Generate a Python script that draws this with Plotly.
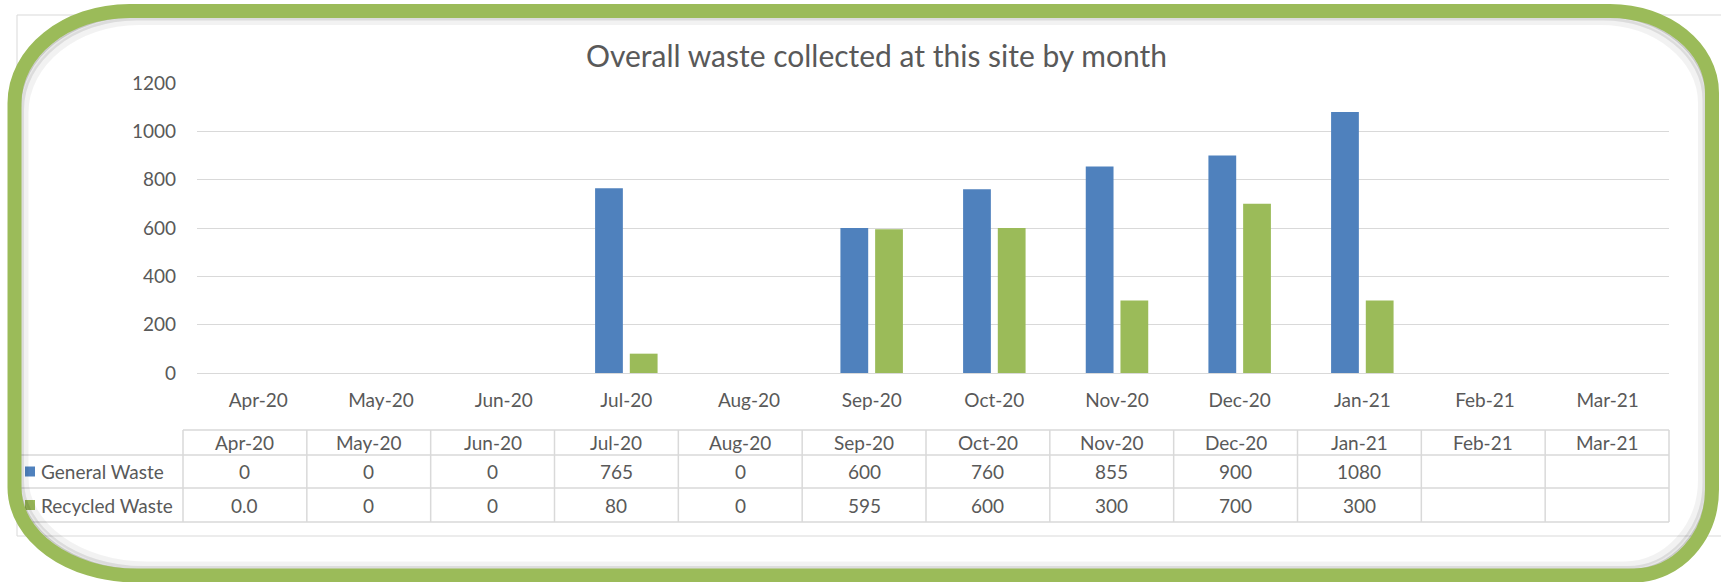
import plotly.graph_objects as go

# ---------------- data ----------------
months = ["Apr-20", "May-20", "Jun-20", "Jul-20", "Aug-20", "Sep-20",
          "Oct-20", "Nov-20", "Dec-20", "Jan-21", "Feb-21", "Mar-21"]
general_waste = [0, 0, 0, 765, 0, 600, 760, 855, 900, 1080, None, None]
recycled_waste = [0, 0, 0, 80, 0, 595, 600, 300, 700, 300, None, None]
general_labels = ["0", "0", "0", "765", "0", "600", "760", "855", "900", "1080", "", ""]
recycled_labels = ["0.0", "0", "0", "80", "0", "595", "600", "300", "700", "300", "", ""]
series_names = ["General Waste", "Recycled Waste"]
title_text = "Overall waste collected at this site by month"

# ---------------- style ----------------
BLUE = "#4F81BD"
GREEN = "#9BBB59"
TEXT = "#595959"
GRID = "#D9D9D9"
BORDER_GREEN = "#9BBB59"
FONT = "Lato"
FS = 19

W, H = 1721, 582
L, R, T, B = 197, 1669, 83, 373  # plot area in pixels


def px(x):
    return (x - L) / (R - L)


def py(y):
    return (B - y) / (B - T)


fig = go.Figure()
fig.add_bar(x=months, y=general_waste, name=series_names[0], marker_color=BLUE,
            marker_line_width=0)
fig.add_bar(x=months, y=recycled_waste, name=series_names[1], marker_color=GREEN,
            marker_line_width=0)

shapes = []
annotations = []

# outer chart-area border (thin gray)
shapes.append(dict(type="rect", xref="paper", yref="paper",
                   x0=px(17), x1=px(1735), y0=py(15), y1=py(536),
                   line=dict(color=GRID, width=1), fillcolor="rgba(0,0,0,0)",
                   layer="below"))

# ---------------- data table ----------------
tx0 = 183
tx1 = 1669
ncol = len(months)
cw = (tx1 - tx0) / ncol
row_y = [430, 455, 488, 522]
line_style = dict(color=GRID, width=1.5)

shapes.append(dict(type="line", xref="paper", yref="paper",
                   x0=px(tx0), x1=px(tx1), y0=py(row_y[0]), y1=py(row_y[0]),
                   line=line_style))
for yy in row_y[1:]:
    shapes.append(dict(type="line", xref="paper", yref="paper",
                       x0=px(17), x1=px(tx1), y0=py(yy), y1=py(yy), line=line_style))
for i in range(ncol + 1):
    xx = tx0 + i * cw
    shapes.append(dict(type="line", xref="paper", yref="paper",
                       x0=px(xx), x1=px(xx), y0=py(row_y[0]), y1=py(row_y[3]),
                       line=line_style))

cell_font = dict(family=FONT, size=FS, color=TEXT)
for i, m in enumerate(months):
    cx = tx0 + (i + 0.5) * cw
    for yy0, yy1, txt in [(row_y[0], row_y[1], m),
                          (row_y[1], row_y[2], general_labels[i]),
                          (row_y[2], row_y[3], recycled_labels[i])]:
        if txt == "":
            continue
        annotations.append(dict(xref="paper", yref="paper", x=px(cx),
                                y=py((yy0 + yy1) / 2), text=txt, showarrow=False,
                                xanchor="center", yanchor="middle", font=cell_font))

# legend keys in the table
for (yy0, yy1), name, col in [((row_y[1], row_y[2]), series_names[0], BLUE),
                              ((row_y[2], row_y[3]), series_names[1], GREEN)]:
    cy = (yy0 + yy1) / 2
    shapes.append(dict(type="rect", xref="paper", yref="paper",
                       x0=px(25), x1=px(35), y0=py(cy - 5), y1=py(cy + 5),
                       line=dict(width=0), fillcolor=col))
    annotations.append(dict(xref="paper", yref="paper", x=px(39), y=py(cy),
                            text=name, showarrow=False, xanchor="left",
                            yanchor="middle", font=cell_font))

# title
annotations.append(dict(xref="paper", yref="paper", x=px(876.5), y=py(55),
                        text=title_text, showarrow=False, xanchor="center",
                        yanchor="middle",
                        font=dict(family=FONT, size=30, color=TEXT)))


# ---------------- green rounded frame ----------------
def frame_path(l, t, r, b, tl, tr, br, bl):
    k = 0.5523

    def P(x, y):
        return f"{px(x):.5f},{py(y):.5f}"

    d = f"M {P(l + tl[0], t)} L {P(r - tr[0], t)} "
    d += f"C {P(r - tr[0] + k * tr[0], t)} {P(r, t + tr[1] - k * tr[1])} {P(r, t + tr[1])} "
    d += f"L {P(r, b - br[1])} "
    d += f"C {P(r, b - br[1] + k * br[1])} {P(r - br[0] + k * br[0], b)} {P(r - br[0], b)} "
    d += f"L {P(l + bl[0], b)} "
    d += f"C {P(l + bl[0] - k * bl[0], b)} {P(l, b - bl[1] + k * bl[1])} {P(l, b - bl[1])} "
    d += f"L {P(l, t + tl[1])} "
    d += f"C {P(l, t + tl[1] - k * tl[1])} {P(l + tl[0] - k * tl[0], t)} {P(l + tl[0], t)} Z"
    return d


radii = dict(tl=(115, 92), tr=(102, 82), br=(78, 86), bl=(122, 88))
# soft inner shadow
for inset, alpha, wdt in [(10, 0.05, 8), (7, 0.09, 5), (5, 0.14, 3)]:
    shapes.append(dict(type="path", xref="paper", yref="paper", layer="above",
                       path=frame_path(14.5 + inset, 11 + inset, 1712 - inset, 575.5 - inset,
                                       **radii),
                       line=dict(color=f"rgba(0,0,0,{alpha})", width=wdt),
                       fillcolor="rgba(0,0,0,0)"))
shapes.append(dict(type="path", xref="paper", yref="paper", layer="above",
                   path=frame_path(14.5, 11, 1712, 575.5, **radii),
                   line=dict(color=BORDER_GREEN, width=14),
                   fillcolor="rgba(0,0,0,0)"))

fig.update_layout(
    width=W, height=H,
    margin=dict(l=L, r=W - R, t=T, b=H - B, pad=0),
    paper_bgcolor="white", plot_bgcolor="white",
    barmode="group", bargap=0.434, bargroupgap=0.2,
    showlegend=False,
    shapes=shapes, annotations=annotations,
    font=dict(family=FONT, color=TEXT),
)
fig.update_xaxes(type="category", showgrid=False, zeroline=False, showline=False,
                 ticks="", ticklabelstandoff=14,
                 tickfont=dict(family=FONT, size=FS, color=TEXT))
fig.update_yaxes(range=[0, 1200], dtick=200, showgrid=True, gridcolor=GRID, gridwidth=1,
                 zeroline=True, zerolinecolor=GRID, zerolinewidth=1, showline=False,
                 ticks="", ticklabelstandoff=20,
                 tickfont=dict(family=FONT, size=FS, color=TEXT))

fig.write_html("out.html",
               config={"displayModeBar": False},
               post_script="document.body.style.margin='0';"
                           "document.body.style.overflow='hidden';")
